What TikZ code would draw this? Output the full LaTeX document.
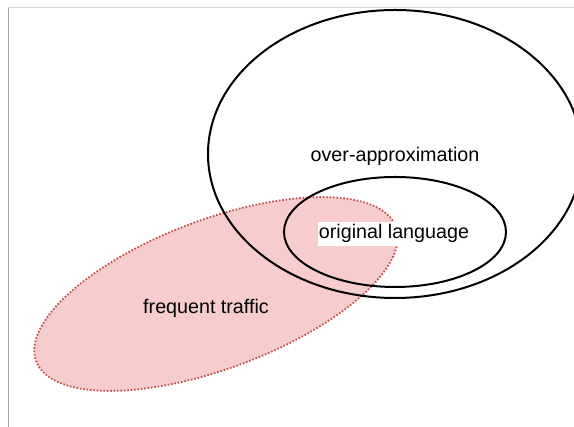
\documentclass[tikz,border=0pt]{standalone}
\usepackage{fontspec}
\setmainfont{Liberation Sans}
\definecolor{pinkfill}{RGB}{246,204,204}
\definecolor{pinkline}{RGB}{190,80,78}
\definecolor{frametop}{RGB}{215,215,215}
\definecolor{frameleft}{RGB}{165,165,165}
\begin{document}
\begin{tikzpicture}[x=1pt,y=1pt,
  setline/.style={draw=black,line width=2pt},
  traffic/.style={fill=pinkfill,draw=pinkline,line width=1.8pt,dash pattern=on 1.6pt off 1.8pt},
  lbl/.style={font=\fontsize{19.7}{22}\selectfont,anchor=base,inner sep=0pt}]
\useasboundingbox (0,0) rectangle (574,427);
\fill[white] (0,0) rectangle (574,427);
\draw[frametop,line width=1pt] (8,419) -- (574,419);
\draw[frameleft,line width=1pt] (8,419) -- (8,0);
\begin{scope}
\clip (0,0) rectangle (574,427);
\path[traffic] (216,133) ellipse [x radius=192, y radius=74.5, rotate=20.5];
\draw[setline] (395,273) ellipse [x radius=187, y radius=144];
\draw[setline] (395,195) ellipse [x radius=111, y radius=55];
\end{scope}
\node[lbl] (over) at (395,265) {over-approximation};
\node[lbl,fill=white,inner xsep=1pt,inner ysep=3pt] (orig) at (394,188) {original language};
\node[lbl] (freq) at (206,113) {frequent traffic};
\end{tikzpicture}
\end{document}
